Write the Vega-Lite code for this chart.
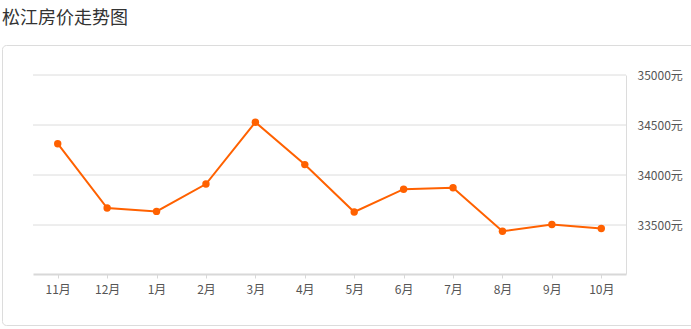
{
  "$schema": "https://vega.github.io/schema/vega-lite/v6.json",
  "width": 700,
  "height": 280,
  "autosize": "none",
  "padding": {"left": 2, "top": 45, "right": 0, "bottom": 4},
  "title": {
    "text": "松江房价走势图",
    "anchor": "start",
    "frame": "group",
    "baseline": "alphabetic",
    "offset": 3,
    "fontSize": 18,
    "fontWeight": "normal",
    "font": "Noto Sans CJK SC",
    "color": "#333"
  },
  "config": {
    "view": {"stroke": "#dcdcdc", "cornerRadius": 4, "strokeWidth": 1},
    "font": "Noto Sans CJK SC"
  },
  "datasets": {
    "prices": [
      {"month": "11月", "price": 34313},
      {"month": "12月", "price": 33670},
      {"month": "1月", "price": 33636},
      {"month": "2月", "price": 33910},
      {"month": "3月", "price": 34528},
      {"month": "4月", "price": 34104},
      {"month": "5月", "price": 33630},
      {"month": "6月", "price": 33858},
      {"month": "7月", "price": 33872},
      {"month": "8月", "price": 33438},
      {"month": "9月", "price": 33505},
      {"month": "10月", "price": 33465}
    ],
    "grid": [
      {"v": 33500},
      {"v": 34000},
      {"v": 34500},
      {"v": 35000}
    ]
  },
  "layer": [
    {
      "data": {"name": "grid"},
      "mark": {"type": "rule", "color": "#dcdcdc", "strokeWidth": 1},
      "encoding": {
        "x": {"datum": 0, "type": "quantitative", "scale": {"domain": [0, 1], "range": [31, 624]}, "axis": null},
        "x2": {"datum": 1},
        "y": {
          "field": "v",
          "type": "quantitative",
          "scale": {"domain": [33010, 35000], "range": [229, 30], "nice": false, "zero": false},
          "axis": {
            "orient": "right",
            "offset": -76,
            "values": [33500, 34000, 34500, 35000],
            "labelExpr": "datum.value + '元'",
            "title": null,
            "grid": false,
            "ticks": false,
            "domainColor": "#dcdcdc",
            "domainWidth": 1,
            "labelPadding": 11,
            "labelFontSize": 12,
            "labelColor": "#555",
            "labelFont": "Noto Sans CJK SC"
          }
        }
      }
    },
    {
      "data": {"name": "prices"},
      "mark": {
        "type": "line",
        "color": "#ff6100",
        "strokeWidth": 2,
        "point": {"filled": true, "size": 55, "color": "#ff6100"}
      },
      "encoding": {
        "x": {
          "field": "month",
          "type": "nominal",
          "sort": null,
          "scale": {"type": "point", "range": [31, 624], "padding": 0.5},
          "axis": {
            "orient": "bottom",
            "offset": -51,
            "title": null,
            "labelAngle": 0,
            "grid": false,
            "domainColor": "#d8d8d8",
            "domainWidth": 2,
            "tickColor": "#d8d8d8",
            "tickSize": 4,
            "labelPadding": 6,
            "labelFontSize": 12,
            "labelColor": "#555",
            "labelFont": "Noto Sans CJK SC"
          }
        },
        "y": {"field": "price", "type": "quantitative"}
      }
    }
  ],
  "resolve": {"scale": {"x": "independent"}}
}
